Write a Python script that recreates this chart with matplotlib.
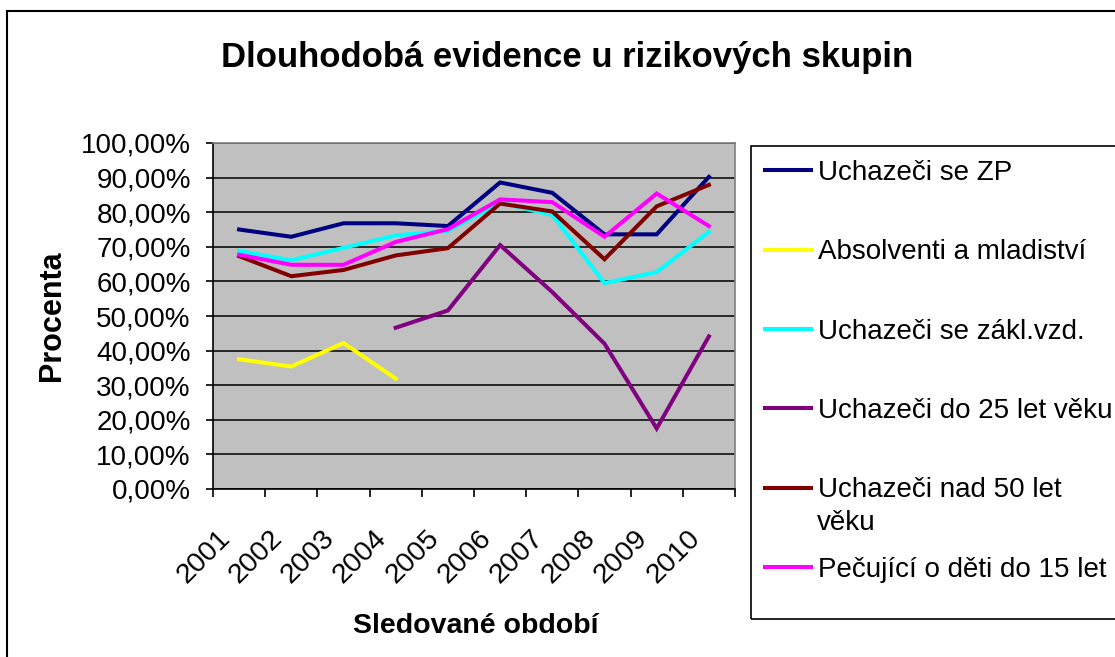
import matplotlib
matplotlib.use("Agg")
import matplotlib.pyplot as plt
from matplotlib.patches import Rectangle
from matplotlib.transforms import ScaledTranslation
import numpy as np

years = ["2001", "2002", "2003", "2004", "2005", "2006", "2007", "2008", "2009", "2010"]
uchazeci_zp = [75.0, 72.9, 76.8, 76.8, 76.0, 88.6, 85.6, 73.6, 73.6, 90.2]
absolventi = [37.5, 35.4, 42.2, 31.9, None, None, None, None, None, None]
zakl_vzd = [68.8, 66.1, 69.7, 73.3, 74.6, 82.7, 79.2, 59.5, 62.7, 74.3]
do25 = [None, None, None, 46.6, 51.6, 70.5, 56.9, 42.0, 17.5, 44.1]
nad50 = [67.3, 61.5, 63.3, 67.5, 69.6, 82.5, 80.2, 66.4, 81.7, 87.9]
pecujici = [67.7, 64.8, 64.8, 71.4, 75.1, 83.7, 82.9, 72.9, 85.4, 76.0]

series_names = ["Uchazeči se ZP", "Absolventi a mladiství", "Uchazeči se zákl.vzd.",
                "Uchazeči do 25 let věku", "Uchazeči nad 50 let", "Pečující o děti do 15 let"]
series_wrap = "věku"  # second line of the fifth legend label
series_vals = [uchazeci_zp, absolventi, zakl_vzd, do25, nad50, pecujici]
colors = ["#000080", "#FFFF00", "#00FFFF", "#800080", "#800000", "#FF00FF"]

plt.rcParams['font.family'] = ['Liberation Sans', 'DejaVu Sans']

W, H = 1115, 657
fig = plt.figure(figsize=(W / 100, H / 100), dpi=100)

def fx(px):
    return px / W

def fy(py):
    return 1 - py / H

# outer border
fig.patches.append(Rectangle((fx(7), fy(700)), fx(1200), fy(11) - fy(700), transform=fig.transFigure,
                             fill=False, edgecolor="black", linewidth=1.5))
# legend frame
fig.patches.append(Rectangle((fx(751), fy(619)), fx(1200) - fx(751), fy(146) - fy(619),
                             transform=fig.transFigure, fill=False, edgecolor="black", linewidth=1.2))

ax = fig.add_axes([fx(213), fy(489), fx(735) - fx(213), fy(143) - fy(489)])
ax.set_facecolor("#C0C0C0")

x = np.arange(len(years)) + 0.5
for name, vals, c in zip(series_names, series_vals, colors):
    y = np.array([np.nan if v is None else v for v in vals], dtype=float)
    ax.plot(x, y, color=c, linewidth=2.9, label=name, solid_joinstyle="miter", zorder=3)

ax.set_xlim(0, 10)
ax.set_ylim(0, 100)
ax.set_yticks(np.arange(0, 101, 10))
ax.set_yticklabels([f"{v},00%" for v in range(0, 101, 10)], fontsize=20)
ax.yaxis.grid(True, color="black", linewidth=1.1)
ax.set_axisbelow(True)

ax.set_xticks(np.arange(0, 11, 1))
ax.set_xticklabels([])
ax.set_xticks(x, minor=True)
ax.set_xticklabels(years, minor=True, fontsize=20.5, rotation=45, ha="right", va="top",
                   rotation_mode="anchor")
ax.tick_params(axis="x", which="minor", length=0, pad=26)
ax.tick_params(axis="x", which="major", direction="out", length=6, width=1.2)
ax.tick_params(axis="y", direction="out", length=5, width=1.2, pad=11)
shift = ScaledTranslation(-0.22, 0, fig.dpi_scale_trans)
for lab in ax.get_xticklabels(minor=True):
    lab.set_transform(lab.get_transform() + shift)

for s in ["top", "right"]:
    ax.spines[s].set_color("#808080")
    ax.spines[s].set_linewidth(1.2)
for s in ["left", "bottom"]:
    ax.spines[s].set_color("black")
    ax.spines[s].set_linewidth(1.2)

fig.text(fx(567), fy(58), "Dlouhodobá evidence u rizikových skupin", fontsize=25,
         fontweight="bold", ha="center", va="center")
fig.text(fx(52), fy(316), "Procenta", fontsize=22, fontweight="bold", rotation=90,
         ha="center", va="center")
fig.text(fx(476), fy(626), "Sledované období", fontsize=20.5, fontweight="bold",
         ha="center", va="center")

leg = ax.legend(loc="upper left", bbox_to_anchor=(fx(751), fy(146)), bbox_transform=fig.transFigure,
                fontsize=20, frameon=False, handlelength=1.66, handletextpad=0.25,
                labelspacing=1.92, borderpad=0.5, borderaxespad=0)
for line in leg.get_lines():
    line.set_linewidth(2.9)
fig.text(fx(817), fy(523), series_wrap, fontsize=20, ha="left", va="center")

fig.savefig("out.png", dpi=100)
